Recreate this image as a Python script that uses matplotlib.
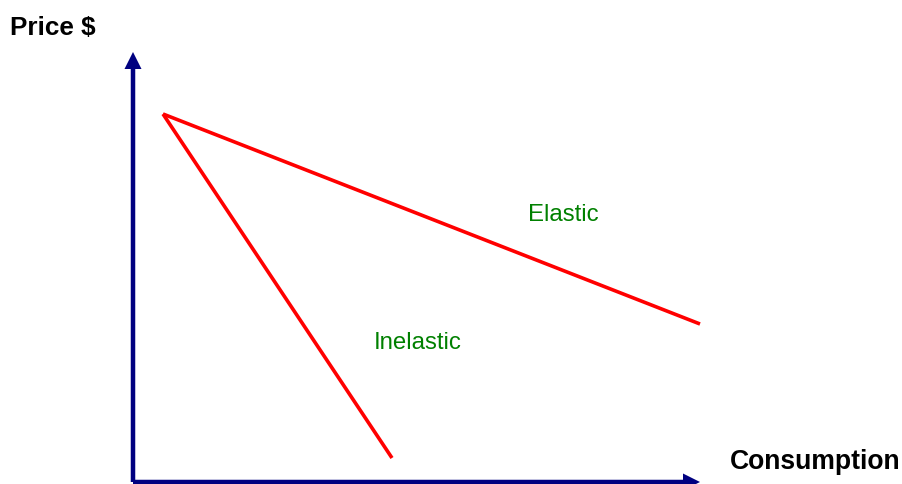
import matplotlib
matplotlib.use("Agg")
import matplotlib.pyplot as plt

# Data (units: consumption / price, arbitrary scale)
start = (30, 368)
elastic_end = (567, 158)
inelastic_end = (259, 24)
elastic_x = [start[0], elastic_end[0]]
elastic_y = [start[1], elastic_end[1]]
inelastic_x = [start[0], inelastic_end[0]]
inelastic_y = [start[1], inelastic_end[1]]
labels = ["Elastic", "Inelastic"]
label_pos = [(430, 267), (285, 139)]
x_axis_len = 567
y_axis_len = 430

fig = plt.figure(figsize=(9.02, 4.84), dpi=100)
ax = fig.add_axes([0, 0, 1, 1])
ax.set_xlim(-133, 769)
ax.set_ylim(-2, 482)
ax.axis("off")

navy = "#000080"
ax.arrow(0, 0, x_axis_len, 0, width=4.5, head_width=17, head_length=17,
         length_includes_head=True, color=navy, lw=0)
ax.arrow(0, 0, 0, y_axis_len, width=4.5, head_width=17, head_length=17,
         length_includes_head=True, color=navy, lw=0)

ax.plot(elastic_x, elastic_y, color="#ff0000", lw=2.6, solid_capstyle="butt")
ax.plot(inelastic_x, inelastic_y, color="#ff0000", lw=2.6, solid_capstyle="butt")

for lab, (lx, ly) in zip(labels, label_pos):
    ax.text(lx, ly, lab, color="#008000", fontsize=17.3, family="Liberation Sans",
            ha="center", va="center")

fig.text(53 / 902, 1 - 28 / 484, "Price $", fontsize=18.8, fontweight="bold",
         family="Liberation Sans", ha="center", va="center")
fig.text(815 / 902, 1 - 462 / 484, "Consumption", fontsize=19.1, fontweight="bold",
         family="Liberation Sans", ha="center", va="center")

fig.savefig("out.png", dpi=100)
